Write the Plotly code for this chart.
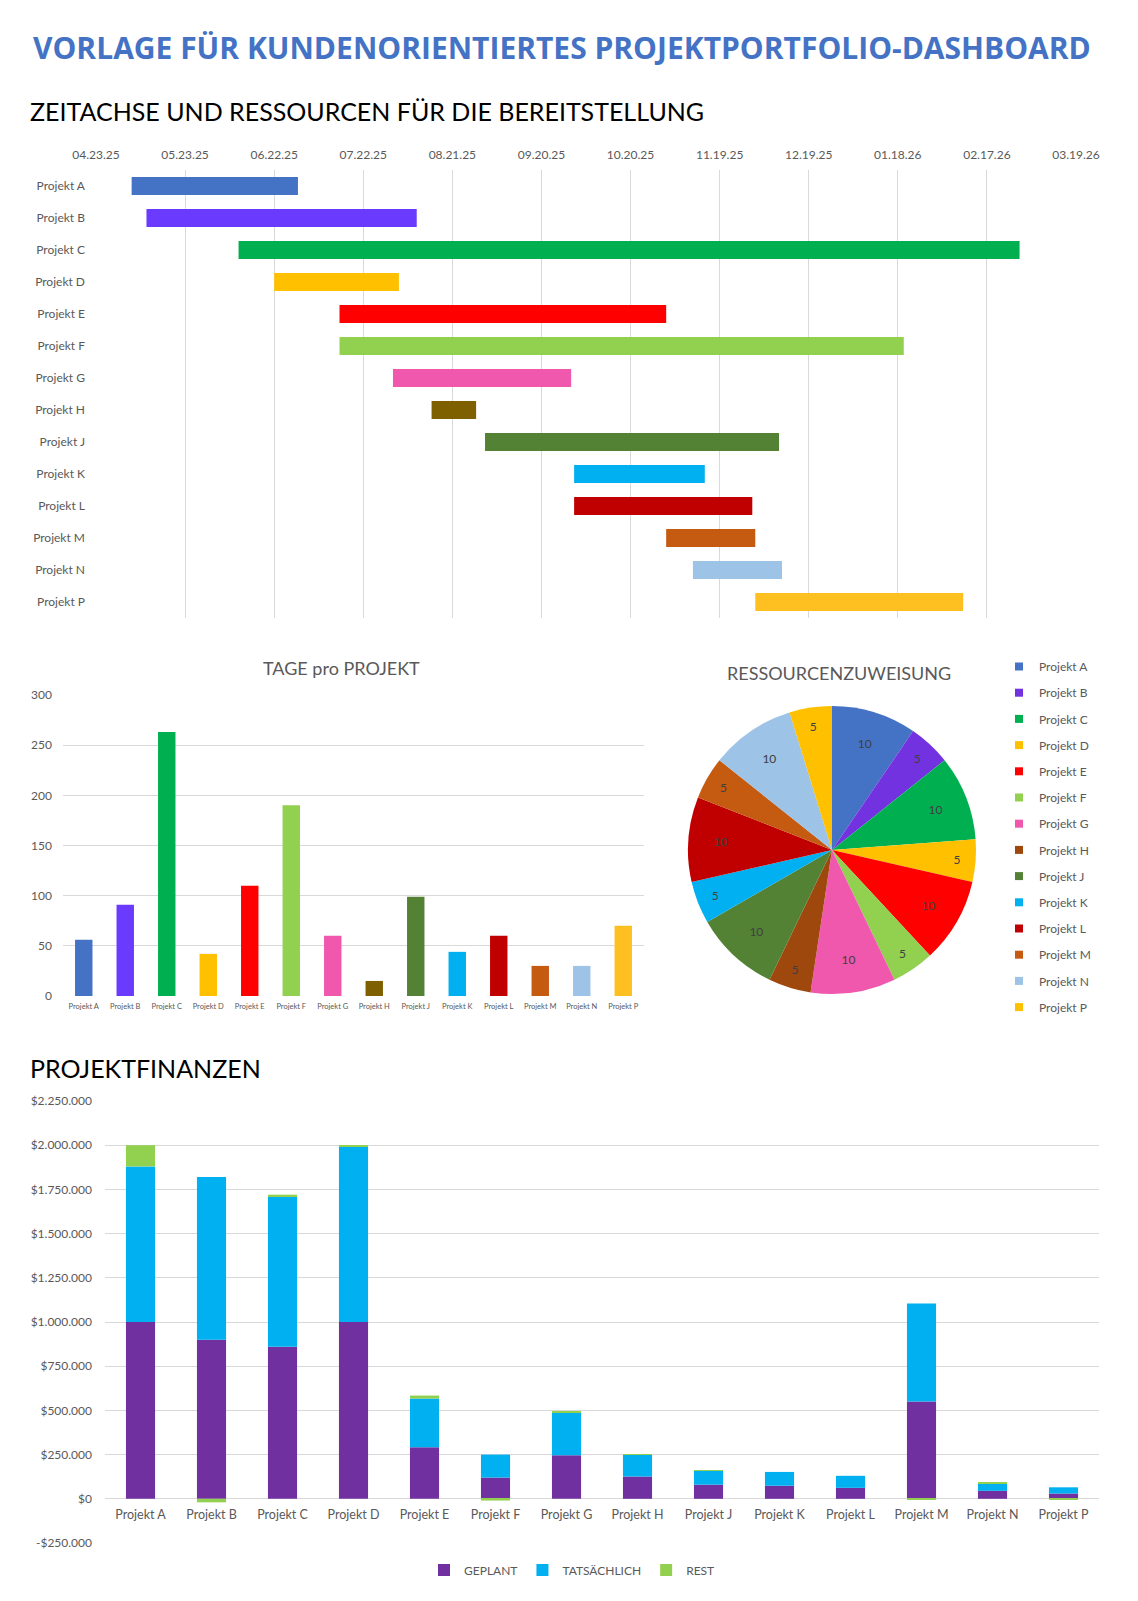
import plotly.graph_objects as go

PAGE_W, PAGE_H = 1138, 1601
BODY = 8  # default page margin around the plot div
W, H = PAGE_W - BODY, PAGE_H - BODY
FONT = "Lato"

# ---------------- data ----------------
projects = ["Projekt A", "Projekt B", "Projekt C", "Projekt D", "Projekt E", "Projekt F", "Projekt G",
            "Projekt H", "Projekt J", "Projekt K", "Projekt L", "Projekt M", "Projekt N", "Projekt P"]
start_dates = ["2025-05-05", "2025-05-10", "2025-06-10", "2025-06-22", "2025-07-14", "2025-07-14", "2025-08-01",
               "2025-08-14", "2025-09-01", "2025-10-01", "2025-10-01", "2025-11-01", "2025-11-10", "2025-12-01"]
days = [56, 91, 263, 42, 110, 190, 60, 15, 99, 44, 60, 30, 30, 70]
resources = [10, 5, 10, 5, 10, 5, 10, 5, 10, 5, 10, 5, 10, 5]

planned = [1000000, 900000, 860000, 1000000, 292000, 120000, 247000, 126000, 80000, 74000, 62000, 550000, 45000, 30000]
actual = [880000, 920000, 852000, 995000, 275000, 130000, 242000, 122000, 78000, 78000, 68000, 555000, 40000, 35000]
rest = [120000, -20000, 8000, 5000, 17000, -10000, 5000, 4000, 3000, 0, 0, -5000, 5000, -5000]

timeline_start = "2025-04-23"
timeline_end = "2026-03-19"
timeline_step_days = 30

fin_ticks = [-250000, 0, 250000, 500000, 750000, 1000000, 1250000, 1500000, 1750000, 2000000, 2250000]
fin_tick_labels = ["-$250.000", "$0", "$250.000", "$500.000", "$750.000", "$1.000.000", "$1.250.000",
                   "$1.500.000", "$1.750.000", "$2.000.000", "$2.250.000"]

bar_colors = ["#4472C4", "#6A3BFF", "#00B050", "#FFC000", "#FF0000", "#92D050", "#F058AE",
              "#7F6000", "#548235", "#00B0F0", "#C00000", "#C55A11", "#9DC3E6", "#FEC020"]
pie_colors = ["#4472C4", "#7232E0", "#00B050", "#FFC000", "#FF0000", "#92D050", "#F058AE",
              "#9E480E", "#548235", "#00B0F0", "#C00000", "#C55A11", "#9DC3E6", "#FFC000"]
fin_names = ["GEPLANT", "TATSÄCHLICH", "REST"]
fin_colors = ["#7030A0", "#00B0F0", "#92D050"]

GRID = "#D9D9D9"
TXT = "#595959"


def fx(px):
    return (px - BODY) / W


def fy(py):
    return 1 - (py - BODY) / H


DAY_MS = 86400000

fig = go.Figure()

# ---------------- Gantt ----------------
fig.add_trace(go.Bar(
    y=projects, x=[d * DAY_MS for d in days], base=start_dates, orientation="h",
    marker=dict(color=bar_colors, line=dict(width=0)), showlegend=False,
    xaxis="x", yaxis="y", width=0.57, hoverinfo="skip"))

# ---------------- Tage pro Projekt ----------------
fig.add_trace(go.Bar(
    x=projects, y=days, marker=dict(color=bar_colors, line=dict(width=0)), showlegend=False,
    xaxis="x2", yaxis="y2", width=0.42))

# ---------------- Ressourcenzuweisung ----------------
fig.add_trace(go.Pie(
    labels=projects, values=resources, sort=False, direction="clockwise", rotation=0,
    marker=dict(colors=pie_colors, line=dict(width=0)),
    textinfo="value", textposition="inside", insidetextorientation="horizontal",
    textfont=dict(size=12, color="#404040", family=FONT),
    domain=dict(x=[fx(832 - 144), fx(832 + 144)], y=[fy(994), fy(706)]),
    showlegend=False))

# legend entries for the pie (one per project)
for name, col in zip(projects, pie_colors):
    fig.add_trace(go.Scatter(
        x=[None], y=[None], mode="markers", name=name, legendgroup=name,
        marker=dict(symbol="square", size=8, color=col),
        xaxis="x2", yaxis="y2", legend="legend", showlegend=True))

# ---------------- Projektfinanzen ----------------
for name, vals, col in zip(fin_names, [planned, actual, rest], fin_colors):
    fig.add_trace(go.Bar(
        x=projects, y=vals, name=name, marker=dict(color=col, line=dict(width=0)),
        xaxis="x3", yaxis="y3", width=0.41, legend="legend2"))

# ---------------- layout ----------------
fin_lo, fin_hi = -250000, 2250000
fin_dom = [fy(1543), fy(1101)]
zero_pos = fin_dom[0] + (0 - fin_lo) / (fin_hi - fin_lo) * (fin_dom[1] - fin_dom[0])

fig.update_layout(
    width=W, height=H, margin=dict(l=0, r=0, t=0, b=0, autoexpand=False),
    paper_bgcolor="white", plot_bgcolor="white",
    barmode="relative", separators=",.",
    font=dict(family=FONT, color=TXT, size=12),
    xaxis=dict(domain=[fx(96), fx(1076)], anchor="y", type="date", side="top",
               range=[timeline_start, timeline_end], tick0=timeline_start,
               dtick=timeline_step_days * DAY_MS, tickformat="%m.%d.%y",
               showgrid=True, gridcolor=GRID, gridwidth=1, zeroline=False, showline=False,
               ticks="", automargin=False, ticklabelstandoff=8, tickfont=dict(size=12, color=TXT)),
    yaxis=dict(domain=[fy(618), fy(170)], anchor="x", type="category",
               categoryorder="array", categoryarray=projects, autorange="reversed",
               showgrid=False, zeroline=False, showline=False, ticks="", automargin=False,
               ticklabelstandoff=10, tickfont=dict(size=12, color=TXT)),
    xaxis2=dict(domain=[fx(63), fx(644)], anchor="y2", type="category",
                showgrid=False, zeroline=False, showline=False, ticks="", automargin=False,
                ticklabelstandoff=4, tickfont=dict(size=7.5, color=TXT), tickangle=0),
    yaxis2=dict(domain=[fy(996), fy(695)], anchor="x2", range=[0, 300], dtick=50,
                showgrid=True, gridcolor=GRID, zeroline=False, showline=False, ticks="",
                automargin=False, ticklabelstandoff=10, tickfont=dict(size=12, color=TXT)),
    xaxis3=dict(domain=[fx(105), fx(1099)], anchor="free", position=zero_pos, type="category",
                showgrid=False, zeroline=False, showline=False, ticks="", automargin=False,
                ticklabelstandoff=7, tickfont=dict(size=12.5, color=TXT), tickangle=0),
    yaxis3=dict(domain=fin_dom, anchor="x3", range=[fin_lo, fin_hi],
                tickvals=fin_ticks, ticktext=fin_tick_labels,
                showgrid=True, gridcolor=GRID, zeroline=False, showline=False, ticks="",
                automargin=False, ticklabelstandoff=12, tickfont=dict(size=12, color=TXT)),
    legend=dict(x=fx(999), y=fy(652), xanchor="left", yanchor="top",
                orientation="v", tracegroupgap=7.2, itemwidth=30,
                font=dict(size=12, color=TXT, family=FONT), bgcolor="rgba(0,0,0,0)"),
    legend2=dict(x=fx(572), y=fy(1570), xanchor="center", yanchor="middle",
                 orientation="h", itemwidth=30,
                 font=dict(size=12, color=TXT, family=FONT), bgcolor="rgba(0,0,0,0)"),
)

ann = [
    dict(text="<b>VORLAGE FÜR KUNDENORIENTIERTES PROJEKTPORTFOLIO-DASHBOARD</b>",
         x=fx(562), y=fy(47), xanchor="center", yanchor="middle",
         font=dict(size=30, color="#4472C4", family="Open Sans")),
    dict(text="ZEITACHSE UND RESSOURCEN FÜR DIE BEREITSTELLUNG",
         x=fx(28), y=fy(111), xanchor="left", yanchor="middle",
         font=dict(size=25, color="#000000", family=FONT)),
    dict(text="PROJEKTFINANZEN",
         x=fx(28), y=fy(1068), xanchor="left", yanchor="middle",
         font=dict(size=25, color="#000000", family=FONT)),
    dict(text="TAGE pro PROJEKT",
         x=fx(341), y=fy(668), xanchor="center", yanchor="middle",
         font=dict(size=18, color=TXT, family=FONT)),
    dict(text="RESSOURCENZUWEISUNG",
         x=fx(839), y=fy(673), xanchor="center", yanchor="middle",
         font=dict(size=18, color=TXT, family=FONT)),
]
for a in ann:
    a.update(xref="paper", yref="paper", showarrow=False)
fig.update_layout(annotations=ann)

fig.write_html("out.html")
